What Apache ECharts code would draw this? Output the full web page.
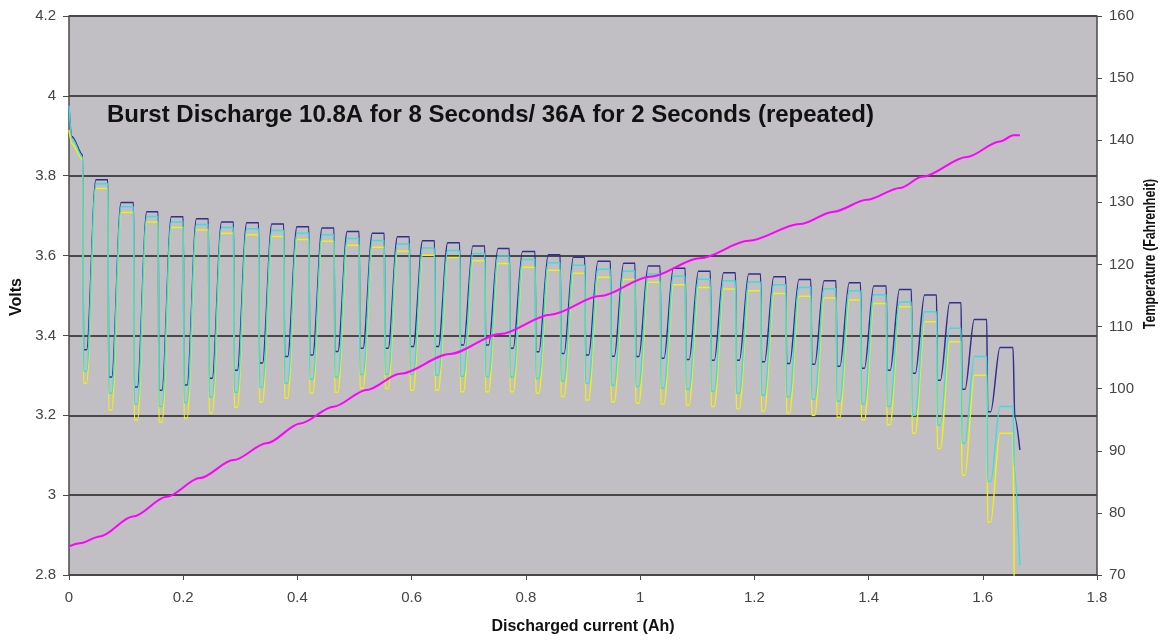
<!DOCTYPE html>
<html>
<head>
<meta charset="utf-8">
<script src="https://cdn.jsdelivr.net/npm/echarts@6/dist/echarts.min.js"></script>
<style>
html,body{margin:0;padding:0;background:#fff;}
#chart{width:1167px;height:641px;}
</style>
</head>
<body>
<div id="chart"></div>
<script>
// ---- data ----
const xTicks = [0, 0.2, 0.4, 0.6, 0.8, 1, 1.2, 1.4, 1.6, 1.8];
const voltTicks = [2.8, 3, 3.2, 3.4, 3.6, 3.8, 4, 4.2];
const tempTicks = [70, 80, 90, 100, 110, 120, 130, 140, 150, 160];

// Ah at which each high-current burst starts (vertical drop)
const dropAh = [0.024,0.068,0.113,0.156,0.200,0.244,0.288,0.332,0.376,0.420,0.464,0.508,0.552,0.596,0.640,0.684,0.728,0.771,0.816,0.860,0.903,0.948,0.991,1.035,1.079,1.123,1.167,1.211,1.255,1.299,1.343,1.386,1.431,1.475,1.519,1.562,1.607,1.653];

// plateau (10.8A) voltages per cycle
const blueTop   = [3.790,3.733,3.710,3.697,3.692,3.684,3.682,3.679,3.672,3.669,3.660,3.656,3.647,3.637,3.632,3.624,3.618,3.610,3.602,3.596,3.586,3.581,3.574,3.568,3.561,3.557,3.554,3.547,3.540,3.537,3.532,3.524,3.515,3.501,3.482,3.440,3.370];
const cyanTop   = [3.780,3.722,3.698,3.684,3.678,3.670,3.667,3.663,3.656,3.652,3.643,3.638,3.629,3.619,3.613,3.605,3.599,3.590,3.582,3.576,3.566,3.561,3.554,3.548,3.541,3.537,3.534,3.527,3.520,3.517,3.512,3.502,3.484,3.459,3.418,3.347,3.222];
const yellowTop = [3.768,3.708,3.684,3.670,3.664,3.656,3.652,3.648,3.640,3.636,3.626,3.621,3.611,3.601,3.595,3.587,3.580,3.571,3.563,3.556,3.546,3.540,3.533,3.527,3.520,3.516,3.512,3.505,3.498,3.494,3.489,3.480,3.472,3.434,3.384,3.300,3.155];

// trough (36A) voltages per cycle
const blueBottom   = [3.364,3.296,3.271,3.263,3.276,3.293,3.313,3.331,3.347,3.351,3.360,3.368,3.368,3.372,3.372,3.376,3.376,3.368,3.359,3.355,3.351,3.348,3.347,3.343,3.340,3.338,3.338,3.334,3.330,3.328,3.323,3.318,3.313,3.305,3.288,3.265,3.209];
const cyanBottom   = [3.310,3.255,3.228,3.222,3.232,3.246,3.258,3.270,3.280,3.290,3.295,3.302,3.303,3.302,3.300,3.298,3.297,3.296,3.292,3.286,3.280,3.275,3.272,3.268,3.265,3.260,3.255,3.250,3.246,3.240,3.235,3.228,3.222,3.200,3.175,3.130,3.034];
const yellowBottom = [3.281,3.213,3.188,3.183,3.193,3.206,3.220,3.233,3.243,3.256,3.258,3.268,3.267,3.263,3.263,3.259,3.259,3.259,3.255,3.247,3.238,3.234,3.230,3.228,3.226,3.222,3.217,3.211,3.206,3.200,3.195,3.188,3.176,3.155,3.117,3.050,2.933];

// first (open-circuit start) segment and final collapse
const blueHead   = [[0,3.972],[0.005,3.898],[0.024,3.852]];
const cyanHead   = [[0,3.975],[0.005,3.893],[0.024,3.846]];
const yellowHead = [[0,3.915],[0.005,3.880],[0.024,3.840]];
const blueTail   = [[1.656,3.196],[1.665,3.113]];
const cyanTail   = [[1.655,3.070],[1.665,2.825]];
const yellowTail = [[1.655,2.780]];

// temperature
const tempAh = [0,0.019,0.054,0.112,0.171,0.229,0.288,0.346,0.405,0.463,0.521,0.580,0.667,0.755,0.843,0.930,1.017,1.105,1.190,1.280,1.339,1.397,1.455,1.494,1.572,1.630,1.654,1.665];
const tempF  = [74.6,75.1,76.2,79.4,82.6,85.6,88.5,91.2,94.4,97.1,99.8,102.4,105.6,108.8,111.9,114.9,118.0,121.0,123.8,126.5,128.5,130.4,132.3,134.1,137.3,139.8,140.8,140.8];

// ---- build polylines (each cycle: drop -> trough -> recovery -> plateau) ----
function buildWave(head, tops, bottoms, tail) {
  const pts = head.map(p => p.slice());
  for (let k = 0; k < tops.length; k++) {
    const d = dropAh[k];
    pts.push([d + 0.0015, bottoms[k]]);
    pts.push([d + 0.007, bottoms[k]]);
    pts.push([d + 0.023, tops[k]]);
    pts.push([dropAh[k + 1], tops[k]]);
  }
  tail.forEach(p => pts.push(p.slice()));
  return pts;
}
const blueData = buildWave(blueHead, blueTop, blueBottom, blueTail);
const cyanData = buildWave(cyanHead, cyanTop, cyanBottom, cyanTail);
const yellowData = buildWave(yellowHead, yellowTop, yellowBottom, yellowTail);
const tempData = tempAh.map((a, i) => [a, tempF[i]]);

const chart = echarts.init(document.getElementById('chart'), null, {renderer: 'canvas'});
const FONT = 'Liberation Sans, Arial, sans-serif';
const lineSeries = (name, data, color, w, yIdx, z) => ({
  name, type: 'line', data, yAxisIndex: yIdx, showSymbol: false, symbol: 'none',
  smooth: 0.3, smoothMonotone: 'x', clip: true, z,
  lineStyle: {color, width: w}, emphasis: {disabled: true}
});

chart.setOption({
  animation: false,
  backgroundColor: '#ffffff',
  grid: {left: 69, right: 70, top: 16, bottom: 66, show: true, backgroundColor: '#c1bfc4', borderWidth: 0},
  xAxis: {
    type: 'value', min: xTicks[0], max: xTicks[xTicks.length - 1], interval: 0.2,
    axisLine: {show: true, onZero: false, lineStyle: {color: '#4a4a4a', width: 1.5}},
    axisTick: {show: true, length: 5, lineStyle: {color: '#4a4a4a'}},
    axisLabel: {color: '#444', fontFamily: FONT, fontSize: 15, margin: 15},
    splitLine: {show: false}
  },
  yAxis: [
    {
      type: 'value', position: 'left', min: voltTicks[0], max: voltTicks[voltTicks.length - 1], interval: 0.2,
      axisLine: {show: true, lineStyle: {color: '#4a4a4a', width: 1.5}},
      axisTick: {show: true, length: 6, lineStyle: {color: '#4a4a4a'}},
      axisLabel: {color: '#444', fontFamily: FONT, fontSize: 15, margin: 13},
      splitLine: {show: true, lineStyle: {color: '#484848', width: 1.8}}
    },
    {
      type: 'value', position: 'right', min: tempTicks[0], max: tempTicks[tempTicks.length - 1], interval: 10,
      axisLine: {show: true, lineStyle: {color: '#4a4a4a', width: 1.5}},
      axisTick: {show: true, length: 5, lineStyle: {color: '#4a4a4a'}},
      axisLabel: {color: '#444', fontFamily: FONT, fontSize: 15, margin: 12},
      splitLine: {show: false}
    }
  ],
  graphic: [
    {type: 'text', left: 107, top: 103, z: 100, style: {text: 'Burst Discharge 10.8A for 8 Seconds/ 36A for 2 Seconds (repeated)', fill: '#111', font: 'bold 24px ' + FONT}},
    {type: 'text', x: 17, y: 297, rotation: Math.PI / 2, z: 100, style: {text: 'Volts', fill: '#111', font: 'bold 16px ' + FONT, align: 'center', verticalAlign: 'middle'}},
    {type: 'text', x: 1151, y: 254, rotation: Math.PI / 2, scaleY: 1.25, z: 100, style: {text: 'Temperature (Fahrenheit)', fill: '#111', font: 'bold 12.5px ' + FONT, align: 'center', verticalAlign: 'middle'}},
    {type: 'text', x: 583, y: 627, z: 100, style: {text: 'Discharged current (Ah)', fill: '#111', font: 'bold 16px ' + FONT, align: 'center', verticalAlign: 'middle'}}
  ],
  series: [
    lineSeries('Voltage A', blueData, '#2f2f8f', 1.5, 0, 2),
    lineSeries('Voltage C', yellowData, '#f0f010', 1.5, 0, 3),
    lineSeries('Voltage B', cyanData, '#3fdcdc', 1.5, 0, 4),
    lineSeries('Temperature', tempData, '#ff00ff', 2, 1, 5)
  ]
});
</script>
</body>
</html>
